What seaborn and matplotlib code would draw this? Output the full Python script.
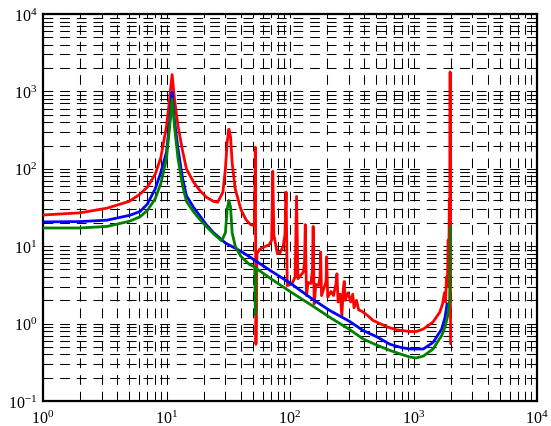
import numpy as np
import pandas as pd
import matplotlib
matplotlib.use("Agg")
import matplotlib.pyplot as plt
from matplotlib.ticker import LogLocator, FixedLocator, NullFormatter
import seaborn as sns

# ---------------- data ----------------
red_f = [1, 2, 3.3, 5, 6.1, 7, 8.1, 9, 10, 10.6, 11.1, 11.6, 12.4, 13.5, 14.5, 16.5,
         18.7, 21, 24, 26, 28.6, 30, 31, 32, 33, 34, 36, 40, 44, 48, 51.5, 52.4, 53.0,
         54, 57, 62, 68, 71, 72.5, 74, 79, 83, 88, 91, 93, 95, 100, 105, 110, 113, 116,
         122, 128, 131, 133, 136, 140, 148, 152, 154, 157, 162, 170, 175, 177, 180, 190,
         196, 198, 202, 215, 225, 235, 240, 245, 255, 263, 270, 275, 280, 295, 310, 322,
         330, 345, 360, 380, 393, 430, 470, 535, 620, 731, 935, 1050, 1200, 1440, 1630,
         1720, 1780, 1820, 1850, 1880, 1910, 1930, 1950, 1965, 1980, 1995]
red_v = [25.3, 27, 31, 38, 47, 58, 85, 140, 355, 800, 1650, 800, 355, 170, 100, 68,
         52, 43, 38, 37, 50, 100, 220, 325, 260, 120, 55, 30, 22, 19, 18.5, 190, 0.54,
         8, 9.2, 9.8, 10.5, 12, 93, 14, 8, 8.2, 10, 14, 50, 3.1, 3.2, 3.4, 4, 44, 3.8,
         4.2, 4.6, 6, 19, 2.3, 3.4, 3.3, 5, 18, 1.8, 3.2, 3.1, 4, 8.4, 2.3, 3,
         3.5, 7.3, 2.2, 2.6, 2.3, 3.2, 4.4, 1.9, 2.4, 1.26, 2.8, 3.5, 2.0, 2.5, 1.9, 2.4,
         1.6, 2.0, 1.5, 1.45, 1.4, 1.25, 1.1, 1.0, 0.9, 0.83, 0.79, 0.79, 0.85, 1.05, 1.4,
         1.8, 2.5, 1.9, 4, 3, 12, 5, 40, 8, 1780, 0.55]

blue_f = [1, 2, 3.3, 5, 6.1, 7, 8.1, 9, 10, 10.6, 11.1, 11.6, 12.4, 13.5, 14.5, 16.5,
          18.7, 21, 24, 30, 40, 47, 70, 100, 150, 211, 300, 393, 500, 646, 800, 935,
          1200, 1440, 1690, 1800, 1870]
blue_v = [20.6, 20.8, 21.7, 25, 28, 35, 55, 90, 165, 400, 980, 420, 180, 75, 45, 32,
          24.5, 19, 15, 11, 8.6, 7.3, 4.8, 3.35, 2.1, 1.47, 1.08, 0.81, 0.68, 0.54, 0.49, 0.47,
          0.47, 0.57, 0.85, 1.2, 1.8]

green_f = [1, 2, 3.3, 5, 6.1, 7, 8.1, 9, 10, 10.6, 11.1, 11.6, 12.4, 13.5, 14.5, 16.5,
           18.7, 21, 24, 28, 30, 31, 32, 33, 34, 36, 40, 47, 51.8, 52.4, 53.0, 70, 100, 150,
           211, 300, 393, 500, 646, 800, 935, 1050, 1200, 1440, 1690, 1800, 1900, 1960, 2000]
green_v = [17.2, 17.2, 18, 21, 24, 29, 41, 65, 135, 350, 800, 350, 135, 60, 38, 28,
           22, 18, 14.5, 11.7, 15, 30, 39, 32, 15, 10, 7.4, 5.8, 5.4, 1.3, 5.2, 3.8, 2.6, 1.72,
           1.2, 0.85, 0.63, 0.53, 0.45, 0.4, 0.37, 0.36, 0.38, 0.47, 0.70, 0.9, 1.3, 2.0, 18]

x_ticks = [1, 10, 100, 1000, 10000]
x_labels = [r"$\mathregular{10^{0}}$", r"$\mathregular{10^{1}}$", r"$\mathregular{10^{2}}$",
            r"$\mathregular{10^{3}}$", r"$\mathregular{10^{4}}$"]
y_ticks = [0.1, 1, 10, 100, 1000, 10000]
y_labels = [r"$\mathregular{10^{-1}}$", r"$\mathregular{10^{0}}$", r"$\mathregular{10^{1}}$",
            r"$\mathregular{10^{2}}$", r"$\mathregular{10^{3}}$", r"$\mathregular{10^{4}}$"]

# ---------------- style ----------------
sns.set_theme(style="white")
plt.rcParams["font.family"] = ["Liberation Serif", "DejaVu Serif"]
plt.rcParams["mathtext.fontset"] = "custom"
plt.rcParams["mathtext.rm"] = "Liberation Serif"
plt.rcParams["mathtext.it"] = "Liberation Serif:italic"
plt.rcParams["lines.scale_dashes"] = False

fig = plt.figure(figsize=(5.51, 4.27), dpi=100)
ax = fig.add_axes([43 / 551, 1 - 402 / 427, (537 - 43) / 551, (402 - 15) / 427])
ax.set_xscale("log")
ax.set_yscale("log")

series = [("red", red_f, red_v, "#ff0000"),
          ("blue", blue_f, blue_v, "#0000ff"),
          ("green", green_f, green_v, "#008000")]
for name, f, v, c in series:
    df = pd.DataFrame({"f": f, "v": v})
    sns.lineplot(data=df, x="f", y="v", ax=ax, color=c, linewidth=2.0,
                 estimator=None, sort=False, zorder=3)

ax.set_xlim(1, 10000)
ax.set_ylim(0.1, 10000)
ax.xaxis.set_major_locator(FixedLocator(x_ticks))
ax.yaxis.set_major_locator(FixedLocator(y_ticks))
ax.set_xticklabels(x_labels)
ax.set_yticklabels(y_labels)
ax.xaxis.set_minor_locator(LogLocator(base=10, subs=np.arange(2, 10), numticks=100))
ax.yaxis.set_minor_locator(LogLocator(base=10, subs=np.arange(2, 10), numticks=100))
ax.xaxis.set_minor_formatter(NullFormatter())
ax.yaxis.set_minor_formatter(NullFormatter())

ax.grid(True, which="both", color="black", linestyle=(0, (7, 5)), linewidth=0.75, zorder=1)
ax.set_axisbelow(True)
ax.tick_params(which="both", length=0, labelsize=11.5, colors="black")
ax.tick_params(axis="x", pad=6)
ax.tick_params(axis="y", pad=4)
for s in ax.spines.values():
    s.set_visible(True)
    s.set_color("black")
    s.set_linewidth(1.6)
ax.set_xlabel("")
ax.set_ylabel("")

fig.savefig("out.png", dpi=100)
